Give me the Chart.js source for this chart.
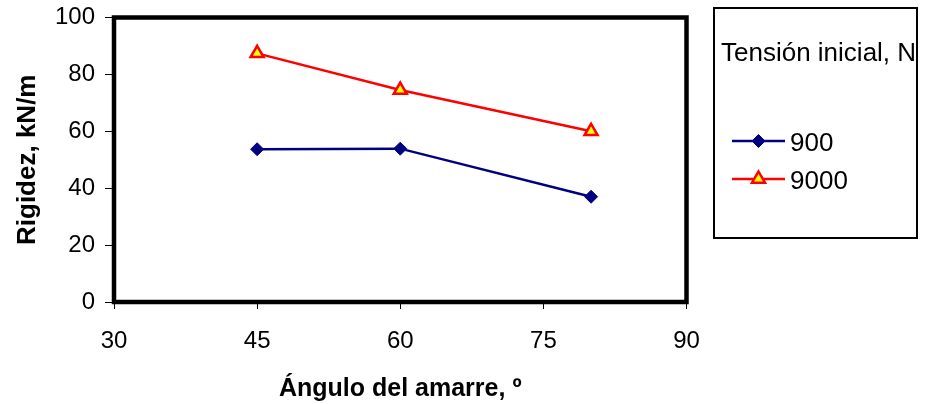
<!DOCTYPE html>
<html lang="es">
<head>
<meta charset="utf-8">
<title>Rigidez frente a ángulo del amarre</title>
<script src="https://cdn.jsdelivr.net/npm/chart.js@4/dist/chart.umd.min.js"></script>
<style>
  html, body { margin: 0; padding: 0; background: #fff; }
  #wrap { width: 927px; height: 404px; position: relative; }
</style>
</head>
<body>
<div id="wrap"><canvas id="chart" width="927" height="404"></canvas></div>
<script>
// Mooring angle (degrees) and measured stiffness (kN/m) per initial tension
const angles = [45, 60, 80];
const stiffness900 = [53.7, 53.9, 37.0];
const stiffness9000 = [87.4, 74.5, 60.0];
const seriesNames = ['900', '9000'];
const legendTitle = 'Tensión inicial, N';
const xTickValues = [30, 45, 60, 75, 90];
const yTickValues = [0, 20, 40, 60, 80, 100];
const xTitle = 'Ángulo del amarre, º';
const yTitle = 'Rigidez, kN/m';

const FONT = "'Liberation Sans', Arial, Helvetica, sans-serif";

function toPoints(xs, ys) {
  return xs.map((x, i) => ({ x: x, y: ys[i] }));
}

// Marker path shared by the plot and the legend
function markerPath(ctx, style, x, y, r) {
  ctx.beginPath();
  if (style === 'triangle') {
    ctx.moveTo(x, y - r);
    ctx.lineTo(x + r * 0.866, y + r / 2);
    ctx.lineTo(x - r * 0.866, y + r / 2);
  } else {
    ctx.moveTo(x - r, y);
    ctx.lineTo(x, y - r);
    ctx.lineTo(x + r, y);
    ctx.lineTo(x, y + r);
  }
  ctx.closePath();
}

// Heavy frame around the plotting area
const framePlugin = {
  id: 'frame',
  beforeDatasetsDraw(chart) {
    const { ctx, chartArea: a } = chart;
    ctx.save();
    ctx.strokeStyle = '#000';
    ctx.lineWidth = 4.5;
    ctx.strokeRect(a.left, a.top, a.right - a.left, a.bottom - a.top);
    ctx.restore();
  }
};

// Boxed legend on the right with a title line
const boxLegendPlugin = {
  id: 'boxLegend',
  afterDraw(chart) {
    const ctx = chart.ctx;
    const box = { x: 714, y: 8, w: 203, h: 230 };
    ctx.save();
    ctx.strokeStyle = '#000';
    ctx.lineWidth = 2;
    ctx.strokeRect(box.x, box.y, box.w, box.h);

    ctx.fillStyle = '#000';
    ctx.textBaseline = 'middle';
    ctx.textAlign = 'left';
    ctx.font = '26px ' + FONT;
    ctx.fillText(legendTitle, box.x + 7, 54);

    const rowY = [141, 179];
    chart.data.datasets.forEach((ds, i) => {
      const y = rowY[i];
      ctx.strokeStyle = ds.borderColor;
      ctx.lineWidth = ds.borderWidth;
      ctx.beginPath();
      ctx.moveTo(732, y);
      ctx.lineTo(785, y);
      ctx.stroke();
      markerPath(ctx, ds.pointStyle, 758.5, y, ds.pointRadius);
      ctx.fillStyle = ds.pointBackgroundColor;
      ctx.fill();
      ctx.lineWidth = ds.pointBorderWidth;
      ctx.strokeStyle = ds.pointBorderColor;
      ctx.stroke();
      ctx.fillStyle = '#000';
      ctx.font = '26px ' + FONT;
      ctx.fillText(ds.label, 790, y + 3);
    });
    ctx.restore();
  }
};

new Chart(document.getElementById('chart'), {
  type: 'line',
  data: {
    datasets: [
      {
        label: seriesNames[0],
        data: toPoints(angles, stiffness900),
        borderColor: '#000080',
        borderWidth: 2.5,
        pointStyle: 'rectRot',
        pointRadius: 6.5,
        pointBackgroundColor: '#000080',
        pointBorderColor: '#000080',
        pointBorderWidth: 1,
        tension: 0
      },
      {
        label: seriesNames[1],
        data: toPoints(angles, stiffness9000),
        borderColor: '#FF0000',
        borderWidth: 2.5,
        pointStyle: 'triangle',
        pointRadius: 7.5,
        pointBackgroundColor: '#FFFF00',
        pointBorderColor: '#FF0000',
        pointBorderWidth: 2.5,
        tension: 0
      }
    ]
  },
  options: {
    responsive: false,
    animation: false,
    devicePixelRatio: 1,
    layout: { padding: { top: 17.5, right: 240.5, left: 0, bottom: 0 } },
    plugins: {
      legend: { display: false },
      tooltip: { enabled: false }
    },
    scales: {
      x: {
        type: 'linear',
        min: 30,
        max: 90,
        afterBuildTicks(scale) { scale.ticks = xTickValues.map(v => ({ value: v })); },
        afterFit(scale) {
          scale.height = 102;
          scale.paddingLeft = 0;
          scale.paddingRight = 0;
        },
        border: { display: false },
        grid: { drawOnChartArea: false, drawTicks: true, tickLength: 7, color: '#000', lineWidth: 1 },
        ticks: { color: '#000', font: { family: FONT, size: 24 }, padding: 18, maxRotation: 0 },
        title: {
          display: true,
          text: xTitle,
          color: '#000',
          font: { family: FONT, size: 25, weight: 'bold' },
          padding: { top: 0, bottom: 0 }
        }
      },
      y: {
        type: 'linear',
        min: 0,
        max: 100,
        afterBuildTicks(scale) { scale.ticks = yTickValues.map(v => ({ value: v })); },
        afterFit(scale) {
          scale.width = 114;
          scale.paddingTop = 0;
          scale.paddingBottom = 0;
        },
        border: { display: false },
        grid: { drawOnChartArea: false, drawTicks: true, tickLength: 9, color: '#000', lineWidth: 1 },
        ticks: { color: '#000', font: { family: FONT, size: 24 }, padding: 10 },
        title: {
          display: true,
          text: yTitle,
          color: '#000',
          font: { family: FONT, size: 26, weight: 'bold' },
          padding: { top: 12, bottom: 0 }
        }
      }
    }
  },
  plugins: [framePlugin, boxLegendPlugin]
});
</script>
</body>
</html>
